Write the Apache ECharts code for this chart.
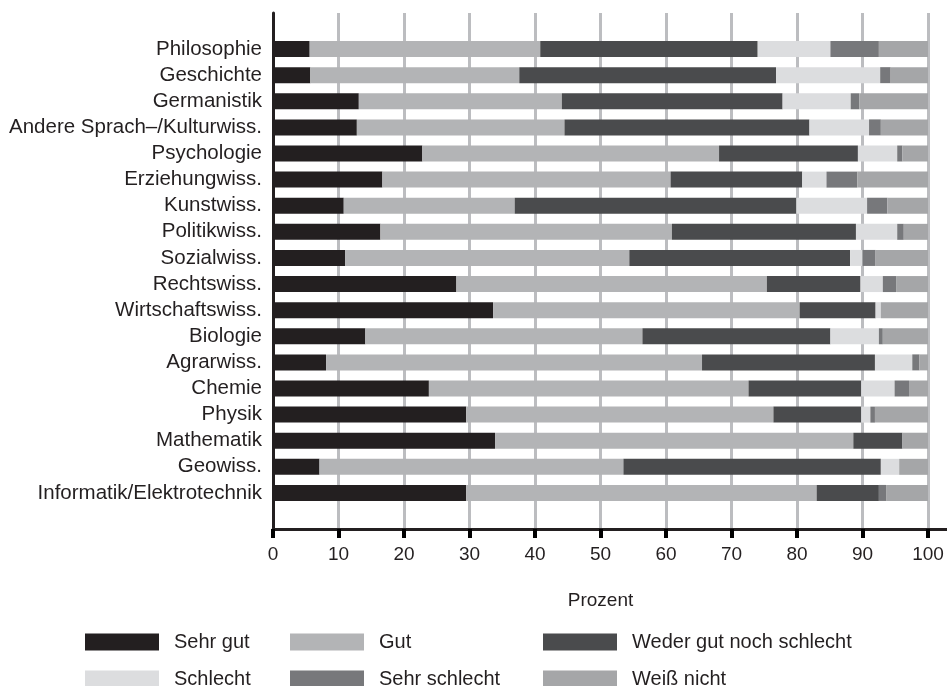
<!DOCTYPE html>
<html>
<head>
<meta charset="utf-8">
<script src="https://cdn.jsdelivr.net/npm/echarts@6/dist/echarts.min.js"></script>
<style>html,body{margin:0;padding:0;background:#fff}#c{width:947px;height:686px}</style>
</head>
<body>
<div id="c"></div>
<script>
const categories = ['Philosophie','Geschichte','Germanistik','Andere Sprach\u2013/Kulturwiss.','Psychologie','Erziehungwiss.','Kunstwiss.','Politikwiss.','Sozialwiss.','Rechtswiss.','Wirtschaftswiss.','Biologie','Agrarwiss.','Chemie','Physik','Mathematik','Geowiss.','Informatik/Elektrotechnik'];
const seriesNames = ['Sehr gut','Gut','Weder gut noch schlecht','Schlecht','Sehr schlecht','Wei\u00df nicht'];
const sehrGut      = [5.6, 5.7, 13.1, 12.8, 22.8, 16.7, 10.8, 16.4, 11.0, 28.0, 33.6, 14.1, 8.1, 23.8, 29.5, 33.9, 7.1, 29.5];
const gut          = [35.2, 31.9, 31.0, 31.7, 45.3, 44.0, 26.1, 44.5, 43.4, 47.4, 46.8, 42.3, 57.4, 48.8, 46.9, 54.7, 46.4, 53.5];
const weder        = [33.2, 39.2, 33.7, 37.4, 21.2, 20.1, 43.0, 28.1, 33.7, 14.3, 11.6, 28.7, 26.4, 17.2, 13.4, 7.5, 39.3, 9.5];
const schlecht     = [11.1, 15.9, 10.4, 9.1, 6.0, 3.7, 10.8, 6.3, 1.9, 3.4, 0.8, 7.4, 5.7, 5.1, 1.4, 0, 2.8, 0];
const sehrSchlecht = [7.4, 1.6, 1.3, 1.8, 0.8, 4.7, 3.1, 1.0, 2.0, 2.1, 0, 0.6, 1.1, 2.2, 0.7, 0, 0, 1.1];
const weissNicht   = [7.5, 5.7, 10.5, 7.2, 3.9, 10.8, 6.2, 3.7, 8.0, 4.8, 7.2, 6.9, 1.3, 2.9, 8.1, 3.9, 4.4, 6.4];
const xTicks = [0,10,20,30,40,50,60,70,80,90,100];

const values = [sehrGut, gut, weder, schlecht, sehrSchlecht, weissNicht];
const colors = ['#231f20','#b3b4b6','#4a4b4d','#dcdddf','#77787b','#a5a6a8'];
const font = 'Liberation Sans, Arial, Helvetica, sans-serif';
const txt = '#231f20';

const chart = echarts.init(document.getElementById('c'), null, {renderer:'canvas'});
const series = seriesNames.map((n,i)=>({
  name: n, type:'bar', stack:'all', xAxisIndex:0, yAxisIndex:0,
  data: values[i], barWidth:16, itemStyle:{color:colors[i]}, emphasis:{disabled:true}
}));
function makeLegend(items, leftPos){
  return {
    orient:'vertical', left:leftPos, top:632, width:300, height:70, padding:0,
    itemWidth:74, itemHeight:17, itemGap:17,
    icon:'rect', data:items, selectedMode:false,
    textStyle:{fontFamily:font, fontSize:20, lineHeight:18, color:txt, padding:[0,0,0,10]}
  };
}
chart.setOption({
  animation:false,
  backgroundColor:'#fff',
  grid:[
    {left:273, right:19, top:36, bottom:180},
    {left:273, right:19, top:13, bottom:157},
    {left:273, right:0, top:13, bottom:157}
  ],
  xAxis:[
    {gridIndex:0, type:'value', min:0, max:100, interval:10, show:false},
    {gridIndex:1, type:'value', min:0, max:100, interval:10,
      axisLine:{show:false},
      axisTick:{show:true, length:9, lineStyle:{color:'#000', width:4}},
      axisLabel:{show:true, margin:16, fontFamily:font, fontSize:19, color:txt, formatter:v=>xTicks.includes(v)?String(v):''},
      splitLine:{show:true, lineStyle:{color:'#bcbdc0', width:3}},
      name:'Prozent', nameLocation:'middle', nameGap:62,
      nameTextStyle:{fontFamily:font, fontSize:19, color:txt}
    },
    {gridIndex:2, type:'value', min:0, max:1,
      axisLine:{show:true, lineStyle:{color:'#231f20', width:3}},
      axisTick:{show:false}, axisLabel:{show:false}, splitLine:{show:false}}
  ],
  yAxis:[
    {gridIndex:0, type:'category', data:categories, inverse:true,
      axisLine:{show:false}, axisTick:{show:false},
      axisLabel:{interval:0, margin:11, fontFamily:font, fontSize:20.5, lineHeight:20, color:txt}},
    {gridIndex:1, type:'value', min:0, max:1,
      axisLine:{show:true, lineStyle:{color:'#231f20', width:3}},
      axisTick:{show:false}, axisLabel:{show:false}, splitLine:{show:false}},
    {gridIndex:2, type:'value', min:0, max:1, show:false}
  ],
  legend:[
    makeLegend([seriesNames[0], seriesNames[3]], 85),
    makeLegend([seriesNames[1], seriesNames[4]], 290),
    makeLegend([seriesNames[2], seriesNames[5]], 543)
  ],
  series: series
});
</script>
</body>
</html>
